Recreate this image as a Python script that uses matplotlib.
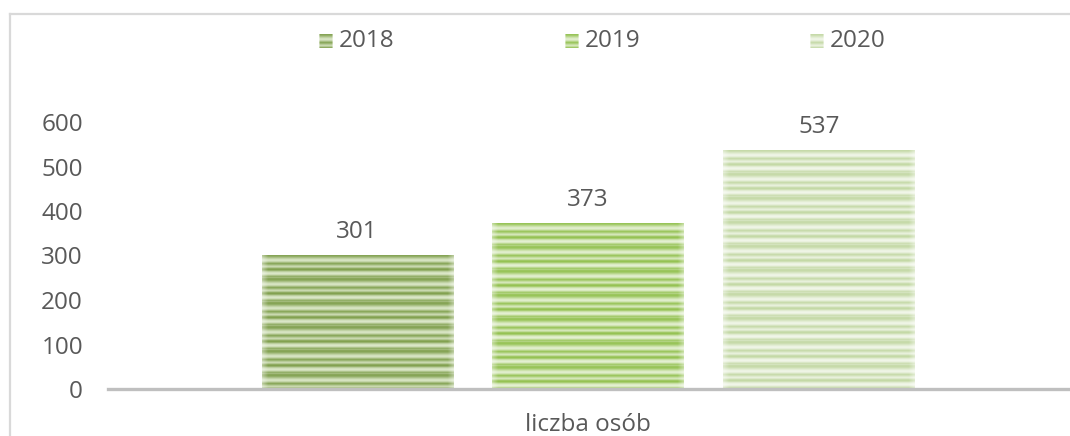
import numpy as np
import matplotlib
matplotlib.use("Agg")
import matplotlib.pyplot as plt
from matplotlib.lines import Line2D

# ---- data ----
category = "liczba osób"
years = ["2018", "2019", "2020"]
values = [301, 373, 537]
yticks = [0, 100, 200, 300, 400, 500, 600]

# ---- style ----
dark_cols = ["#82a150", "#95c253", "#c4d9a6"]
light_cols = ["#dbe7c8", "#e4f0d2", "#f1f6e9"]
text_col = "#595959"
FONT = "Open Sans"
FS = 17.5

# stripe intensity pattern (1 = dark, 0 = light), 24 rows period
pattern = np.array([0.95, 0.8, 0.55, 0.3, 0.1, 0.05, 0.25, 0.6,
                    0.9, 0.7, 0.4, 0.2, 0.45, 0.85, 1.0, 0.75,
                    0.35, 0.1, 0.0, 0.15, 0.5, 0.8, 0.65, 0.9])


def hex2rgb(h):
    h = h.lstrip('#')
    return np.array([int(h[i:i + 2], 16) / 255 for i in (0, 2, 4)])


def stripe_img(nrows, ncols, dark, light):
    d = hex2rgb(dark)
    l = hex2rgb(light)
    t = np.resize(pattern, nrows)[:, None, None]
    img = l + (d - l) * t
    img = np.repeat(img, ncols, axis=1)
    # soften near left/right edges
    x = np.linspace(0, 1, ncols)
    edge = np.clip(np.minimum(x, 1 - x) / 0.03, 0, 1)
    fade = 0.6 + 0.4 * edge
    img = 1 - (1 - img) * fade[None, :, None]
    return np.clip(img, 0, 1)


W, H = 1070, 436
fig = plt.figure(figsize=(W / 100, H / 100), dpi=100)
ax = fig.add_axes([108 / W, 47 / H, 960 / W, 267 / H])
ax.set_xlim(-0.5, 0.5)
ax.set_ylim(0, 600)

bw = 0.199
offsets = [-0.2406, 0.0, 0.2406]
px_per_unit = 267 / 600
for i, (yr, v) in enumerate(zip(years, values)):
    x0 = offsets[i] - bw / 2
    bars = ax.bar(offsets[i], v, width=bw, color="none", edgecolor="none", zorder=2)
    rect = bars[0]
    nrows = max(int(round(v * px_per_unit)), 2)
    img = stripe_img(nrows, 191, dark_cols[i], light_cols[i])
    im = ax.imshow(img, extent=[x0, x0 + bw, 0, v], aspect="auto",
                   interpolation="bilinear", origin="upper", zorder=2)
    im.set_clip_path(rect)
    ax.annotate(str(v), xy=(offsets[i], v), xytext=(0, 8), textcoords="offset points",
                ha="center", va="bottom", fontsize=FS, color=text_col, family=FONT)

ax.set_xlim(-0.5, 0.5)
ax.set_ylim(0, 600)
ax.axhline(0, color="#bfbfbf", lw=2.4, zorder=3, clip_on=False)

for s in ax.spines.values():
    s.set_visible(False)
ax.set_yticks(yticks)
ax.set_yticklabels([str(t) for t in yticks], fontsize=FS, color=text_col, family=FONT)
ax.tick_params(axis="y", length=0, pad=18)
ax.set_xticks([])
fig.text(588 / W, 1 - 425 / H, category, ha="center", va="center",
         fontsize=FS, color=text_col, family=FONT)

# legend
leg_sq_x = [319, 565, 810]
for i, yr in enumerate(years):
    lax = fig.add_axes([leg_sq_x[i] / W, 1 - 48 / H, 14 / W, 14 / H])
    lax.imshow(stripe_img(14, 14, dark_cols[i], light_cols[i]), aspect="auto",
               interpolation="bilinear")
    lax.axis("off")
    fig.text((leg_sq_x[i] + 20) / W, 1 - 41 / H, yr, ha="left", va="center",
             fontsize=FS, color=text_col, family=FONT)

# chart border
fig.add_artist(Line2D([10 / W, 10 / W], [0, 1 - 14 / H], color="#d9d9d9", lw=1.6,
                      transform=fig.transFigure))
fig.add_artist(Line2D([10 / W, 1], [1 - 14 / H, 1 - 14 / H], color="#d9d9d9", lw=1.6,
                      transform=fig.transFigure))

fig.savefig("out.png", dpi=100, facecolor="white")
